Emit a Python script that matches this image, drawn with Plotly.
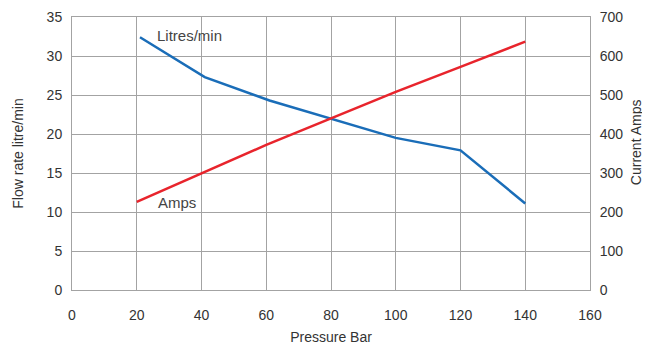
import plotly.graph_objects as go

pressure_flow = [21, 41, 61, 80, 100, 120, 140]
flow_lpm = [32.4, 27.3, 24.3, 22.0, 19.5, 17.9, 11.1]
pressure_amps = [20, 40, 60, 80, 100, 120, 140]
current_amps = [226, 300, 372, 440, 508, 572, 637]

x_ticks = [0, 20, 40, 60, 80, 100, 120, 140, 160]
left_ticks = [0, 5, 10, 15, 20, 25, 30, 35]
right_ticks = [0, 100, 200, 300, 400, 500, 600, 700]

FONT = "Liberation Sans, Arial, sans-serif"
GRID = "#a3a3a3"
TXT = "#333333"

fig = go.Figure()
fig.add_trace(go.Scatter(x=pressure_flow, y=flow_lpm, mode="lines",
                         line=dict(color="#1a6db8", width=2.5), yaxis="y"))
fig.add_trace(go.Scatter(x=pressure_amps, y=current_amps, mode="lines",
                         line=dict(color="#e8242c", width=2.5), yaxis="y2"))

fig.add_annotation(x=25.6, y=32.6, xref="x", yref="y", text="Litres/min", showarrow=False,
                   xanchor="left", yanchor="middle", font=dict(family=FONT, size=15, color="#444"))
fig.add_annotation(x=25.8, y=11.2, xref="x", yref="y", text="Amps", showarrow=False,
                   xanchor="left", yanchor="middle", font=dict(family=FONT, size=15, color="#444"))
# right axis title
fig.add_annotation(x=1.088, y=0.54, xref="paper", yref="paper", text="Current Amps",
                   showarrow=False, textangle=-90, xanchor="center", yanchor="middle",
                   font=dict(family=FONT, size=14, color=TXT))

fig.update_layout(
    width=642, height=340,
    margin=dict(l=64, r=60, t=9, b=58),
    paper_bgcolor="white", plot_bgcolor="white",
    showlegend=False,
    font=dict(family=FONT, size=14, color=TXT),
    xaxis=dict(range=[0, 160], tickvals=x_ticks, showgrid=True, gridcolor=GRID, gridwidth=1,
               showline=True, linecolor=GRID, linewidth=1, mirror=True, zeroline=False,
               ticks="", ticklabelstandoff=12, automargin=False,
               title=dict(text="Pressure Bar", font=dict(size=14, color=TXT), standoff=10)),
    yaxis=dict(range=[0, 35], tickvals=left_ticks, showgrid=True, gridcolor=GRID, gridwidth=1,
               showline=True, linecolor=GRID, linewidth=1, zeroline=False, ticks="",
               ticklabelstandoff=6, automargin=False,
               title=dict(text="Flow rate litre/min", font=dict(size=14, color=TXT), standoff=19)),
    yaxis2=dict(range=[0, 700], tickvals=right_ticks, overlaying="y", side="right",
                showgrid=False, showline=True, linecolor=GRID, linewidth=1, zeroline=False,
                ticks="", ticklabelstandoff=6, automargin=False),
)

fig.write_html("out.html")
